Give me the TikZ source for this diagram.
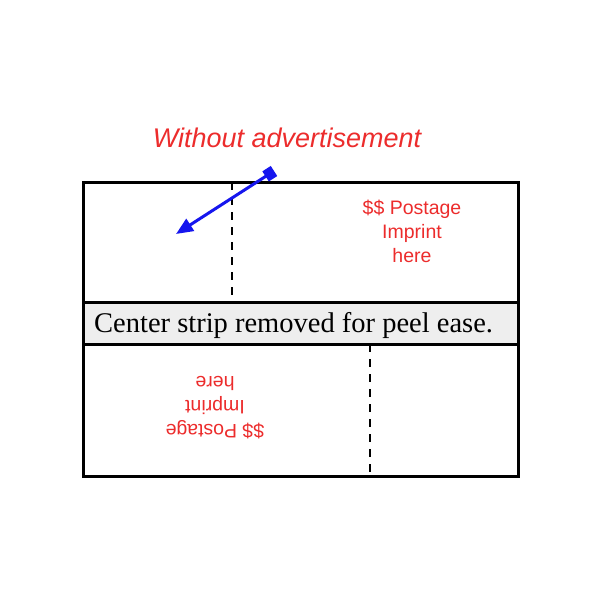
\documentclass[tikz,border=0pt]{standalone}
\usepackage{fontspec}
\setmainfont{Liberation Serif}
\setsansfont{Liberation Sans}
\usepackage{tikz}
\usetikzlibrary{arrows.meta, positioning}
\definecolor{imprintred}{RGB}{236,44,44}
\definecolor{peelblue}{RGB}{22,22,238}
\definecolor{stripgray}{RGB}{238,238,238}

\begin{document}
\begin{tikzpicture}[x=1pt, y=-1pt,
    edge/.style={line width=3pt},
    cutline/.style={line width=1.8pt, dash pattern=on 8pt off 7pt},
    imprint/.style={text=imprintred, font=\sffamily\fontsize{19.5}{24}\selectfont, align=center, inner sep=0pt}]
    \useasboundingbox (0,0) rectangle (600,600);
    % envelope halves
    \draw[cutline] (232,182) -- (232,302);
    \draw[cutline] (370,344) -- (370,476);
    \filldraw[stripgray, draw=black, line width=3pt] (83,302) rectangle (518,344);
    \draw[edge] (83,182) rectangle (518,476);
    \node[font=\fontsize{28.5}{30}\selectfont, anchor=west, inner sep=0pt] (strip) at (94,325) {Center strip removed for peel ease.};
    \node[imprint] (upper) at (412,231) {\$\$ Postage\\Imprint\\here};
    \node[imprint, rotate=180] (lower) at (215,408) {\$\$ Postage\\Imprint\\here};
    % label and arrow
    \node[text=imprintred, font=\sffamily\itshape\fontsize{27}{30}\selectfont, inner sep=0pt] (title) at (287,138) {Without advertisement};
    \coordinate (tabtop) at (274,171);
    \coordinate (tabend) at (176,234);
    \draw[peelblue, line width=3pt, {Square[length=10pt, width=12pt]}-{Triangle[length=17pt, width=14pt]}] (tabtop) -- (tabend);
\end{tikzpicture}
\end{document}
